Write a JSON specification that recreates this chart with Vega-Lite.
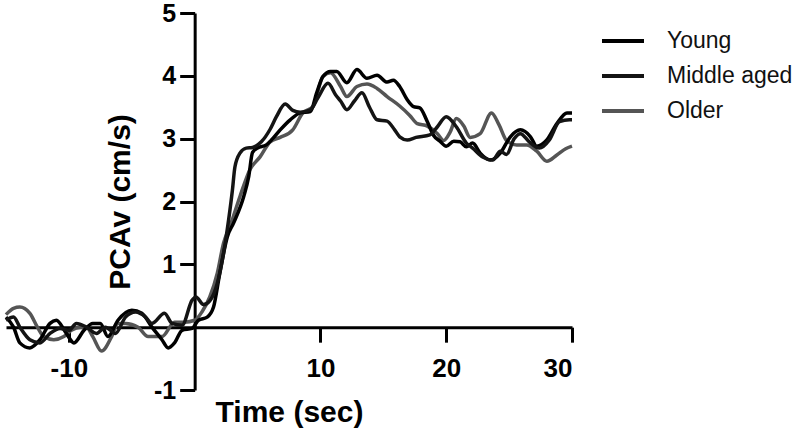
{
  "$schema": "https://vega.github.io/schema/vega-lite/v6.json",
  "width": 566,
  "height": 377,
  "autosize": {"type": "none"},
  "padding": {"left": 6, "top": 13, "right": 228, "bottom": 41},
  "background": "white",
  "config": {
    "view": {"stroke": null},
    "font": "Liberation Sans"
  },
  "data": {
    "values": [
      {"g":"Older","t":-15,"v":0.2},{"g":"Older","t":-14.4,"v":0.3},{"g":"Older","t":-13.9,"v":0.32},{"g":"Older","t":-13.1,"v":0.22},{"g":"Older","t":-12.5,"v":0.0},{"g":"Older","t":-12.0,"v":-0.15},{"g":"Older","t":-11.2,"v":-0.2},{"g":"Older","t":-10.4,"v":-0.15},{"g":"Older","t":-9.8,"v":-0.05},{"g":"Older","t":-9.1,"v":0.0},{"g":"Older","t":-8.6,"v":0.0},{"g":"Older","t":-8.1,"v":-0.15},{"g":"Older","t":-7.4,"v":-0.38},{"g":"Older","t":-6.6,"v":-0.15},{"g":"Older","t":-6.1,"v":0.06},{"g":"Older","t":-5.5,"v":0.06},{"g":"Older","t":-4.5,"v":0.0},{"g":"Older","t":-3.7,"v":-0.15},{"g":"Older","t":-2.6,"v":-0.15},{"g":"Older","t":-1.6,"v":0.08},{"g":"Older","t":-0.8,"v":0.08},{"g":"Older","t":0,"v":0.11},{"g":"Older","t":0.6,"v":0.25},{"g":"Older","t":1.2,"v":0.48},{"g":"Older","t":1.8,"v":0.86},{"g":"Older","t":2.3,"v":1.34},{"g":"Older","t":2.8,"v":1.6},{"g":"Older","t":3.6,"v":2.08},{"g":"Older","t":4.4,"v":2.51},{"g":"Older","t":5.2,"v":2.71},{"g":"Older","t":6.0,"v":2.95},{"g":"Older","t":6.8,"v":3.02},{"g":"Older","t":7.8,"v":3.14},{"g":"Older","t":8.6,"v":3.41},{"g":"Older","t":9.4,"v":3.51},{"g":"Older","t":10.2,"v":3.99},{"g":"Older","t":10.8,"v":4.05},{"g":"Older","t":11.6,"v":3.83},{"g":"Older","t":12.1,"v":3.67},{"g":"Older","t":12.9,"v":3.83},{"g":"Older","t":13.7,"v":3.87},{"g":"Older","t":14.5,"v":3.8},{"g":"Older","t":15.3,"v":3.67},{"g":"Older","t":16.3,"v":3.52},{"g":"Older","t":17.1,"v":3.37},{"g":"Older","t":17.7,"v":3.24},{"g":"Older","t":18.5,"v":3.2},{"g":"Older","t":19.3,"v":3.08},{"g":"Older","t":19.8,"v":2.97},{"g":"Older","t":20.3,"v":3.1},{"g":"Older","t":20.8,"v":3.32},{"g":"Older","t":21.4,"v":3.2},{"g":"Older","t":21.9,"v":3.02},{"g":"Older","t":22.7,"v":3.08},{"g":"Older","t":23.6,"v":3.41},{"g":"Older","t":24.2,"v":3.22},{"g":"Older","t":24.8,"v":2.97},{"g":"Older","t":25.6,"v":2.9},{"g":"Older","t":26.4,"v":2.9},{"g":"Older","t":27.2,"v":2.8},{"g":"Older","t":28.0,"v":2.64},{"g":"Older","t":28.8,"v":2.74},{"g":"Older","t":29.5,"v":2.84},{"g":"Older","t":30,"v":2.88},
      {"g":"Young","t":-15,"v":0.16},{"g":"Young","t":-14.4,"v":0.0},{"g":"Young","t":-13.9,"v":-0.25},{"g":"Young","t":-13.1,"v":-0.33},{"g":"Young","t":-12.3,"v":-0.2},{"g":"Young","t":-11.5,"v":0.06},{"g":"Young","t":-11.0,"v":0.11},{"g":"Young","t":-10.2,"v":-0.1},{"g":"Young","t":-9.6,"v":-0.25},{"g":"Young","t":-8.8,"v":-0.05},{"g":"Young","t":-8.1,"v":0.06},{"g":"Young","t":-7.5,"v":0.06},{"g":"Young","t":-6.9,"v":-0.15},{"g":"Young","t":-6.1,"v":0.11},{"g":"Young","t":-5.0,"v":0.27},{"g":"Young","t":-4.2,"v":0.22},{"g":"Young","t":-3.4,"v":0.0},{"g":"Young","t":-2.6,"v":-0.2},{"g":"Young","t":-2.1,"v":-0.33},{"g":"Young","t":-1.6,"v":-0.25},{"g":"Young","t":-1.0,"v":-0.05},{"g":"Young","t":-0.2,"v":-0.02},{"g":"Young","t":0.3,"v":0.11},{"g":"Young","t":1.0,"v":0.16},{"g":"Young","t":1.5,"v":0.32},{"g":"Young","t":2.0,"v":0.86},{"g":"Young","t":2.6,"v":1.44},{"g":"Young","t":3.1,"v":1.66},{"g":"Young","t":3.9,"v":2.08},{"g":"Young","t":4.3,"v":2.4},{"g":"Young","t":4.6,"v":2.78},{"g":"Young","t":5.0,"v":2.85},{"g":"Young","t":5.7,"v":2.9},{"g":"Young","t":6.2,"v":3.0},{"g":"Young","t":6.8,"v":3.14},{"g":"Young","t":7.6,"v":3.3},{"g":"Young","t":8.4,"v":3.41},{"g":"Young","t":9.2,"v":3.43},{"g":"Young","t":9.7,"v":3.73},{"g":"Young","t":10.2,"v":3.99},{"g":"Young","t":10.8,"v":4.07},{"g":"Young","t":11.3,"v":4.07},{"g":"Young","t":12.1,"v":3.89},{"g":"Young","t":12.9,"v":4.1},{"g":"Young","t":13.7,"v":3.96},{"g":"Young","t":14.5,"v":4.01},{"g":"Young","t":15.3,"v":3.9},{"g":"Young","t":15.8,"v":3.93},{"g":"Young","t":16.3,"v":3.83},{"g":"Young","t":16.9,"v":3.62},{"g":"Young","t":17.4,"v":3.51},{"g":"Young","t":17.9,"v":3.49},{"g":"Young","t":18.5,"v":3.27},{"g":"Young","t":19.0,"v":3.05},{"g":"Young","t":19.5,"v":2.96},{"g":"Young","t":20.0,"v":2.88},{"g":"Young","t":20.6,"v":2.96},{"g":"Young","t":21.1,"v":2.95},{"g":"Young","t":21.6,"v":2.87},{"g":"Young","t":22.1,"v":2.93},{"g":"Young","t":22.7,"v":2.77},{"g":"Young","t":23.5,"v":2.66},{"g":"Young","t":24.3,"v":2.77},{"g":"Young","t":25.1,"v":3.03},{"g":"Young","t":25.9,"v":3.14},{"g":"Young","t":26.7,"v":3.03},{"g":"Young","t":27.2,"v":2.88},{"g":"Young","t":28.0,"v":2.98},{"g":"Young","t":28.8,"v":3.24},{"g":"Young","t":29.6,"v":3.41},{"g":"Young","t":30,"v":3.41},
      {"g":"Middle aged","t":-15,"v":0.11},{"g":"Middle aged","t":-14.4,"v":0.16},{"g":"Middle aged","t":-13.9,"v":0.0},{"g":"Middle aged","t":-13.1,"v":-0.2},{"g":"Middle aged","t":-12.3,"v":-0.25},{"g":"Middle aged","t":-11.5,"v":-0.1},{"g":"Middle aged","t":-10.7,"v":-0.02},{"g":"Middle aged","t":-10.0,"v":-0.05},{"g":"Middle aged","t":-9.4,"v":0.06},{"g":"Middle aged","t":-8.6,"v":0.0},{"g":"Middle aged","t":-7.8,"v":-0.1},{"g":"Middle aged","t":-7.1,"v":0.0},{"g":"Middle aged","t":-6.3,"v":-0.1},{"g":"Middle aged","t":-5.5,"v":0.16},{"g":"Middle aged","t":-4.7,"v":0.24},{"g":"Middle aged","t":-3.9,"v":0.16},{"g":"Middle aged","t":-3.4,"v":0.06},{"g":"Middle aged","t":-2.4,"v":0.22},{"g":"Middle aged","t":-1.8,"v":0.06},{"g":"Middle aged","t":-1.0,"v":0.03},{"g":"Middle aged","t":-0.2,"v":0.43},{"g":"Middle aged","t":0.1,"v":0.48},{"g":"Middle aged","t":0.7,"v":0.36},{"g":"Middle aged","t":1.2,"v":0.42},{"g":"Middle aged","t":1.8,"v":0.7},{"g":"Middle aged","t":2.3,"v":1.18},{"g":"Middle aged","t":2.7,"v":1.71},{"g":"Middle aged","t":3.0,"v":2.18},{"g":"Middle aged","t":3.2,"v":2.55},{"g":"Middle aged","t":3.6,"v":2.77},{"g":"Middle aged","t":4.1,"v":2.85},{"g":"Middle aged","t":4.6,"v":2.86},{"g":"Middle aged","t":5.3,"v":2.95},{"g":"Middle aged","t":6.0,"v":3.15},{"g":"Middle aged","t":6.5,"v":3.35},{"g":"Middle aged","t":7.2,"v":3.55},{"g":"Middle aged","t":7.8,"v":3.45},{"g":"Middle aged","t":8.4,"v":3.42},{"g":"Middle aged","t":9.2,"v":3.46},{"g":"Middle aged","t":9.8,"v":3.65},{"g":"Middle aged","t":10.6,"v":3.88},{"g":"Middle aged","t":11.2,"v":3.7},{"g":"Middle aged","t":11.6,"v":3.6},{"g":"Middle aged","t":12.1,"v":3.46},{"g":"Middle aged","t":12.7,"v":3.6},{"g":"Middle aged","t":13.3,"v":3.73},{"g":"Middle aged","t":13.9,"v":3.5},{"g":"Middle aged","t":14.5,"v":3.3},{"g":"Middle aged","t":15.3,"v":3.28},{"g":"Middle aged","t":15.9,"v":3.14},{"g":"Middle aged","t":16.3,"v":3.03},{"g":"Middle aged","t":16.9,"v":2.98},{"g":"Middle aged","t":17.6,"v":3.02},{"g":"Middle aged","t":18.7,"v":3.06},{"g":"Middle aged","t":19.3,"v":3.19},{"g":"Middle aged","t":20.0,"v":3.35},{"g":"Middle aged","t":20.8,"v":3.19},{"g":"Middle aged","t":21.6,"v":2.93},{"g":"Middle aged","t":22.1,"v":2.85},{"g":"Middle aged","t":22.9,"v":2.71},{"g":"Middle aged","t":23.7,"v":2.66},{"g":"Middle aged","t":24.3,"v":2.8},{"g":"Middle aged","t":24.8,"v":2.75},{"g":"Middle aged","t":25.4,"v":3.0},{"g":"Middle aged","t":25.9,"v":3.08},{"g":"Middle aged","t":26.6,"v":2.95},{"g":"Middle aged","t":27.4,"v":2.85},{"g":"Middle aged","t":28.2,"v":2.98},{"g":"Middle aged","t":29.0,"v":3.27},{"g":"Middle aged","t":29.8,"v":3.3},{"g":"Middle aged","t":30,"v":3.3}
    ]
  },
  "mark": {"type": "line", "interpolate": "monotone", "strokeWidth": 3.5},
  "encoding": {
    "x": {
      "field": "t", "type": "quantitative",
      "scale": {"domain": [-15, 30], "nice": false, "zero": false},
      "axis": {
        "title": "Time (sec)", "orient": "bottom", "offset": -62.83,
        "values": [-10, 10, 20, 30], "grid": false,
        "domainColor": "black", "domainWidth": 3, "tickColor": "black", "tickWidth": 3, "tickSize": 15,
        "labelFont": "Liberation Sans", "labelFontWeight": "bold", "labelFontSize": 26, "labelColor": "black", "labelPadding": 13,
        "labelExpr": "datum.value < 0 ? '-' + abs(datum.value) : '' + datum.value",
        "titleFont": "Liberation Sans", "titleFontWeight": "bold", "titleFontSize": 30, "titleColor": "black", "titlePadding": 16
      }
    },
    "y": {
      "field": "v", "type": "quantitative",
      "scale": {"domain": [-1, 5], "nice": false, "zero": false},
      "axis": {
        "title": "PCAv (cm/s)", "orient": "left", "offset": -188.67,
        "values": [-1, 1, 2, 3, 4, 5], "grid": false,
        "domainColor": "black", "domainWidth": 3, "tickColor": "black", "tickWidth": 3, "tickSize": 15,
        "labelFont": "Liberation Sans", "labelFontWeight": "bold", "labelFontSize": 25, "labelColor": "black", "labelPadding": 4,
        "labelExpr": "datum.value < 0 ? '-' + abs(datum.value) : '' + datum.value",
        "titleFont": "Liberation Sans", "titleFontWeight": "bold", "titleFontSize": 30, "titleColor": "black", "titlePadding": 18
      }
    },
    "color": {
      "field": "g", "type": "nominal",
      "scale": {"domain": ["Young", "Middle aged", "Older"], "range": ["#000000", "#141414", "#555555"]},
      "legend": {
        "title": null, "orient": "none", "legendX": 594, "legendY": 5,
        "symbolType": "stroke", "symbolSize": 1764, "symbolStrokeWidth": 4,
        "labelFont": "Liberation Sans", "labelFontSize": 23, "labelColor": "#111111", "labelOffset": 21,
        "rowPadding": -7, "padding": 0
      }
    }
  }
}
